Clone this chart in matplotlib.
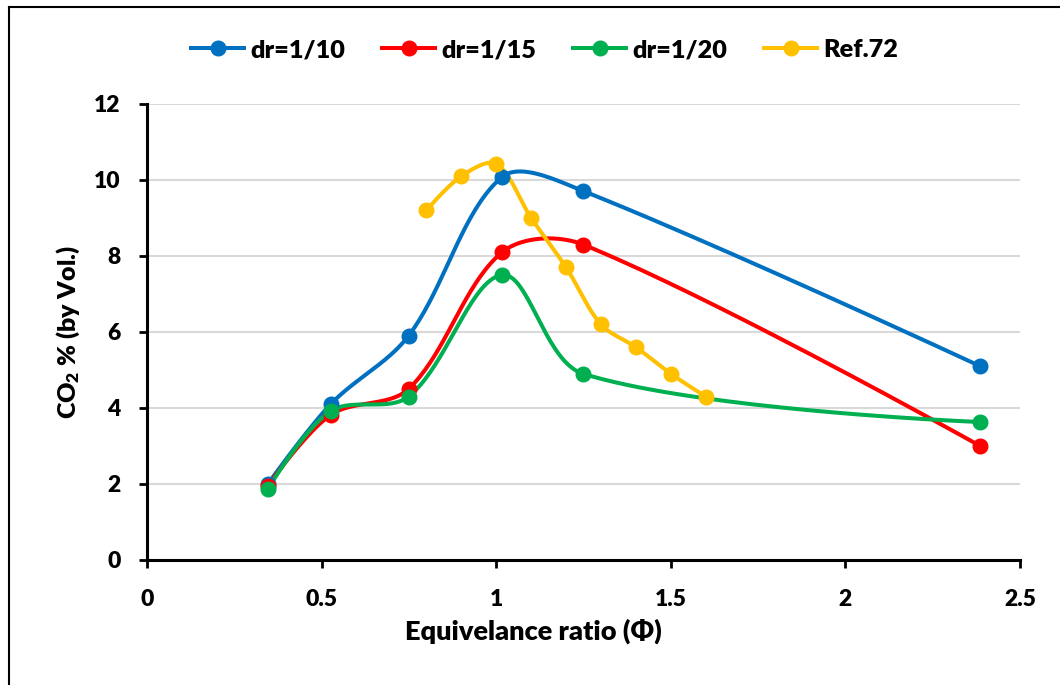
import matplotlib
matplotlib.use('Agg')
import matplotlib.pyplot as plt
from matplotlib.lines import Line2D
import numpy as np

WAGA = 'heavy'
plt.rcParams['font.family'] = ['Lato', 'DejaVu Sans']
plt.rcParams['font.weight'] = WAGA
plt.rcParams['axes.labelweight'] = WAGA
plt.rcParams['mathtext.fontset'] = 'custom'
plt.rcParams['mathtext.rm'] = 'Lato:heavy'
plt.rcParams['mathtext.bf'] = 'Lato:heavy'
plt.rcParams['mathtext.default'] = 'bf'

# dane
phi = [0.346, 0.526, 0.749, 1.017, 1.249, 2.386]
co2_dr10 = [2.0, 4.1, 5.9, 10.08, 9.71, 5.1]
co2_dr15 = [1.95, 3.82, 4.5, 8.1, 8.3, 3.0]
co2_dr20 = [1.87, 3.92, 4.3, 7.5, 4.9, 3.63]

phi_ref = [0.8, 0.9, 1.0, 1.1, 1.2, 1.3, 1.4, 1.5, 1.6]
co2_ref = [9.2, 10.1, 10.42, 9.0, 7.7, 6.2, 5.6, 4.9, 4.3]

serie = [
    ('dr=1/10', phi, co2_dr10, '#0070C0'),
    ('dr=1/15', phi, co2_dr15, '#FF0000'),
    ('dr=1/20', phi, co2_dr20, '#00B050'),
    ('Ref.72', phi_ref, co2_ref, '#FFC000'),
]

fig = plt.figure(figsize=(10.6, 6.85), dpi=100)
ax = fig.add_axes([0.1387, 0.1825, 0.8236, 0.6657])
ax.set_xlim(0, 2.5)
ax.set_ylim(0, 12)


def wygladz(x, y, t=1 / 3, n=40):
    # gładka linia jak w Excelu (Bezier, odcinki ważone długością w pikselach)
    p = ax.transData.transform(np.column_stack([x, y]))
    m = len(p)
    xs, ys = [p[0][0]], [p[0][1]]
    tt = np.linspace(0, 1, n)[1:, None]
    for i in range(m - 1):
        p0, p3 = p[i], p[i + 1]
        d01 = np.hypot(*(p3 - p0))
        if i > 0:
            dprev = np.hypot(*(p0 - p[i - 1]))
            p1 = p0 + t * d01 / (dprev + d01) * (p3 - p[i - 1])
        else:
            p1 = p0
        if i < m - 2:
            dnext = np.hypot(*(p[i + 2] - p3))
            p2 = p3 - t * d01 / (d01 + dnext) * (p[i + 2] - p0)
        else:
            p2 = p3
        b = (1 - tt) ** 3 * p0 + 3 * (1 - tt) ** 2 * tt * p1 + 3 * (1 - tt) * tt ** 2 * p2 + tt ** 3 * p3
        xs.extend(b[:, 0])
        ys.extend(b[:, 1])
    d = ax.transData.inverted().transform(np.column_stack([xs, ys]))
    return d[:, 0], d[:, 1]


uchwyty = []
for nazwa, xx, yy, kolor in serie:
    sx, sy = wygladz(xx, yy)
    ax.plot(sx, sy, color=kolor, lw=2.9, solid_capstyle='round', zorder=3)
    ax.plot(xx, yy, 'o', color=kolor, ms=10.5, zorder=4)
    uchwyty.append(Line2D([], [], color=kolor, lw=2.9, marker='o', ms=10.5, label=nazwa))

ax.set_xticks(np.arange(0, 2.51, 0.5))
ax.set_xticklabels(['0', '0.5', '1', '1.5', '2', '2.5'], fontweight=WAGA)
ax.set_yticks(np.arange(0, 13, 2))
ax.set_yticklabels([str(v) for v in range(0, 13, 2)], fontweight=WAGA)
ax.grid(axis='y', color='#D9D9D9', lw=1.5, zorder=0)
ax.set_axisbelow(True)
for s in ['top', 'right']:
    ax.spines[s].set_visible(False)
for s in ['left', 'bottom']:
    ax.spines[s].set_linewidth(2.2)
ax.tick_params(direction='out', length=6, width=2, labelsize=16.5)
ax.tick_params(axis='y', pad=13)
ax.tick_params(axis='x', pad=15)

ax.set_xlabel('Equivelance ratio (Φ)', fontsize=19.5, fontweight=WAGA, labelpad=6)
ax.xaxis.label.set_x(0.443)
ax.set_ylabel('CO$_2$ % (by Vol.)', fontsize=18, fontweight=WAGA, labelpad=9)

fig.legend(handles=uchwyty, loc='center', bbox_to_anchor=(0.514, 0.927), ncol=4,
           frameon=False, prop={'size': 18.2, 'weight': WAGA},
           handlelength=2.1, columnspacing=1.45, handletextpad=0.25)

# ramka wykresu (przycięta)
fig.add_artist(Line2D([9 / 1060, 1], [1 - 7 / 685, 1 - 7 / 685], color='black', lw=1.5))
fig.add_artist(Line2D([9 / 1060, 9 / 1060], [0, 1 - 7 / 685], color='black', lw=1.5))

fig.savefig('out.png', dpi=100)
